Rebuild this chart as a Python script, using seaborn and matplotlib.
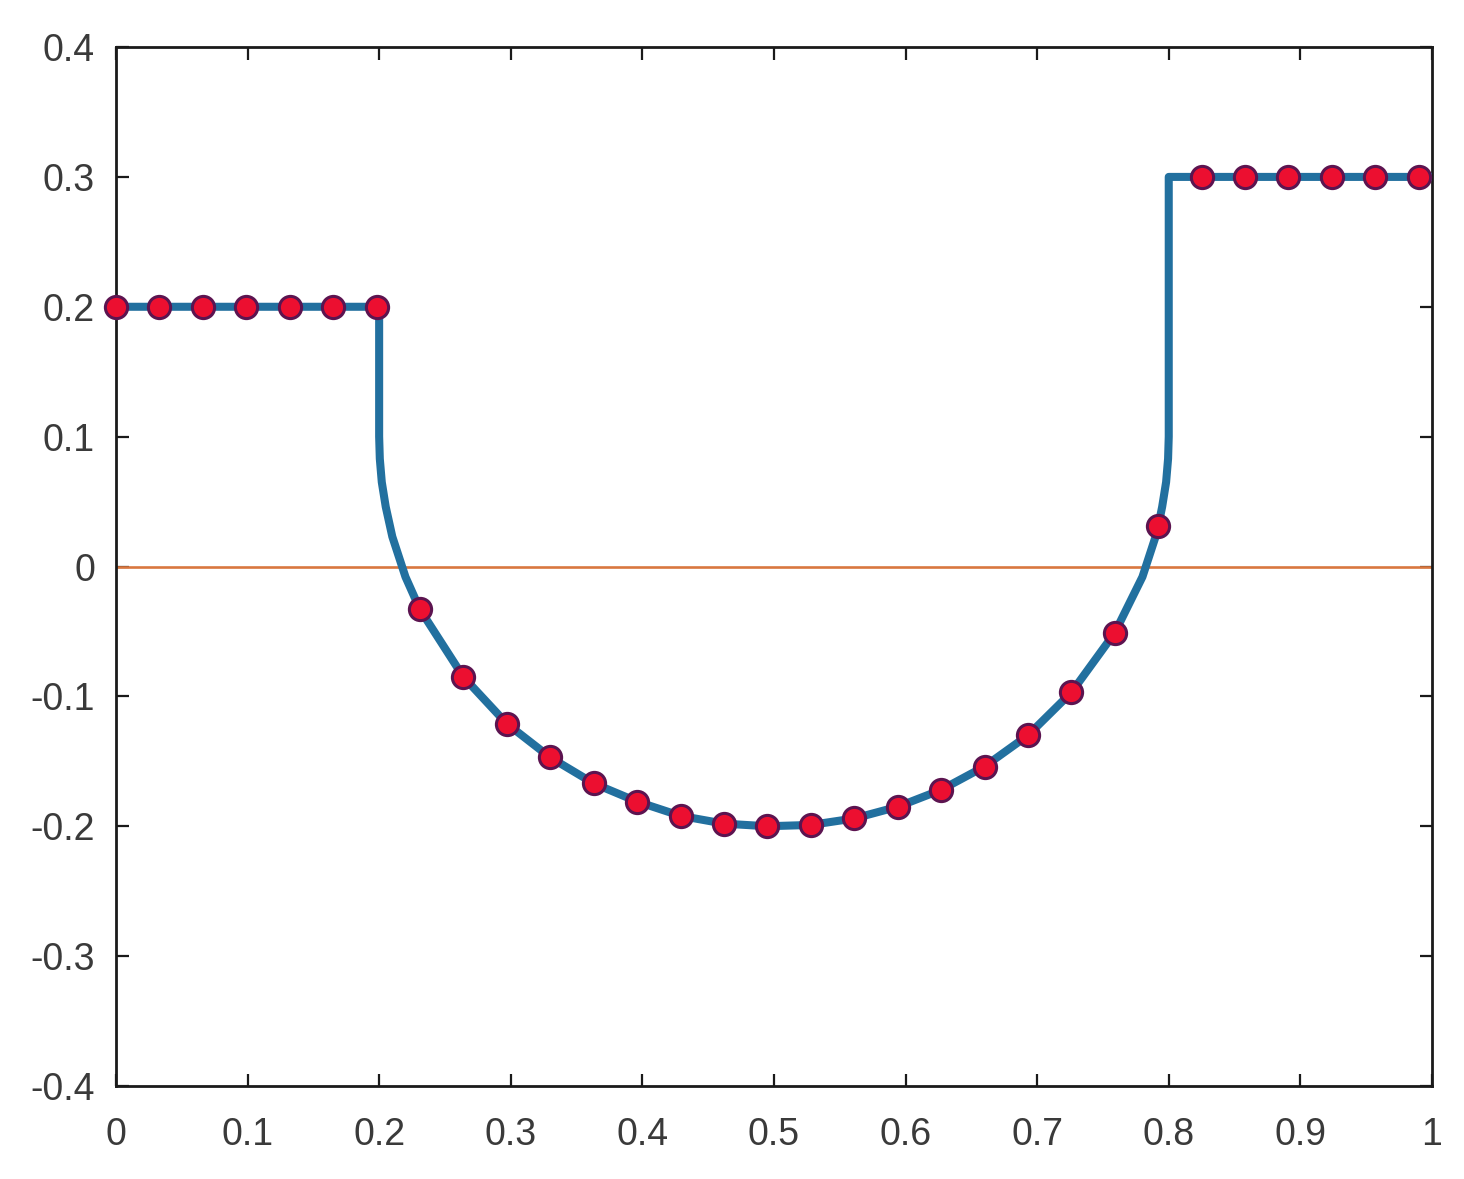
import matplotlib
matplotlib.use("Agg")
import matplotlib.pyplot as plt
import seaborn as sns
import pandas as pd
import numpy as np

# Sampled points (dots)
dot_x = [0.000, 0.033, 0.066, 0.099, 0.132, 0.165, 0.198, 0.231, 0.264, 0.297,
         0.330, 0.363, 0.396, 0.429, 0.462, 0.495, 0.528, 0.561, 0.594, 0.627,
         0.660, 0.693, 0.726, 0.759, 0.792, 0.825, 0.858, 0.891, 0.924, 0.957, 0.990]
dot_y = [0.200, 0.200, 0.200, 0.200, 0.200, 0.200, 0.200, -0.033, -0.085, -0.121,
         -0.147, -0.167, -0.181, -0.192, -0.198, -0.200, -0.199, -0.194, -0.185, -0.172,
         -0.154, -0.130, -0.097, -0.051, 0.031, 0.300, 0.300, 0.300, 0.300, 0.300, 0.300]

# Continuous profile (blue line)
line_x = [0.000, 0.200, 0.200, 0.2005, 0.202, 0.205, 0.210, 0.220, 0.231, 0.264,
          0.297, 0.330, 0.363, 0.396, 0.429, 0.462, 0.495, 0.528, 0.561, 0.594,
          0.627, 0.660, 0.693, 0.726, 0.759, 0.780, 0.790, 0.792, 0.795, 0.798,
          0.7995, 0.800, 0.800, 1.000]
line_y = [0.200, 0.200, 0.100, 0.083, 0.065, 0.046, 0.023, -0.008, -0.033, -0.085,
          -0.121, -0.147, -0.167, -0.181, -0.192, -0.198, -0.200, -0.199, -0.194, -0.185,
          -0.172, -0.154, -0.130, -0.097, -0.051, -0.008, 0.023, 0.031, 0.046, 0.065,
          0.083, 0.100, 0.300, 0.300]

# Zero reference line (orange)
zero_x = [0.0, 1.0]
zero_y = [0.0, 0.0]

x_ticks = [0, 0.1, 0.2, 0.3, 0.4, 0.5, 0.6, 0.7, 0.8, 0.9, 1]
x_tick_labels = ["0", "0.1", "0.2", "0.3", "0.4", "0.5", "0.6", "0.7", "0.8", "0.9", "1"]
y_ticks = [-0.4, -0.3, -0.2, -0.1, 0, 0.1, 0.2, 0.3, 0.4]
y_tick_labels = ["-0.4", "-0.3", "-0.2", "-0.1", "0", "0.1", "0.2", "0.3", "0.4"]

sns.set_style("white")
plt.rcParams['font.family'] = ['Liberation Sans', 'DejaVu Sans']

fig = plt.figure(figsize=(14.64, 11.79), dpi=100)
ax = fig.add_axes([0.0792, 0.0789, 0.8989, 0.8812])

df_line = pd.DataFrame({"x": line_x, "y": line_y})
df_zero = pd.DataFrame({"x": zero_x, "y": zero_y})
df_dot = pd.DataFrame({"x": dot_x, "y": dot_y})

sns.lineplot(data=df_zero, x="x", y="y", ax=ax, color="#d9773f", linewidth=1.9,
             sort=False, estimator=None, zorder=2)
sns.lineplot(data=df_line, x="x", y="y", ax=ax, color="#22709f", linewidth=5.8,
             sort=False, estimator=None, zorder=3)
ax.plot(df_dot["x"], df_dot["y"], linestyle="none", marker="o", markersize=16,
        markerfacecolor="#ec0f30", markeredgecolor="#5c1450", markeredgewidth=2.2,
        zorder=4, clip_on=False)

ax.set_xlim(0, 1)
ax.set_ylim(-0.4, 0.4)
ax.set_xticks(x_ticks)
ax.set_xticklabels(x_tick_labels)
ax.set_yticks(y_ticks)
ax.set_yticklabels(y_tick_labels)
ax.set_xlabel("")
ax.set_ylabel("")

for s in ax.spines.values():
    s.set_visible(True)
    s.set_color("#1a1a1a")
    s.set_linewidth(2.0)

ax.tick_params(axis="both", which="major", direction="in", length=9, width=1.6,
               colors="#1a1a1a", labelcolor="#3a3a3a", labelsize=27,
               top=True, right=True, bottom=True, left=True)
ax.tick_params(axis="x", pad=22)
ax.tick_params(axis="y", pad=15)

fig.savefig("out.png", dpi=100, facecolor="white")
